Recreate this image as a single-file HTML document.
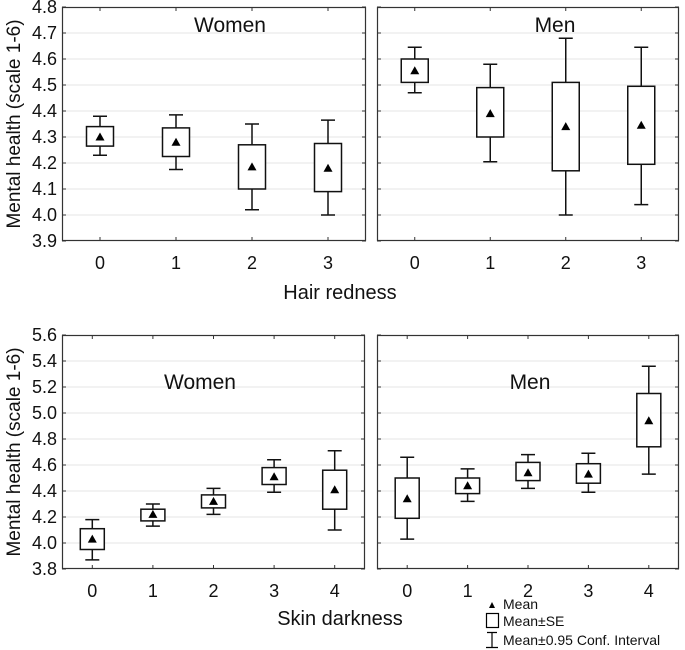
<!DOCTYPE html>
<html><head><meta charset="utf-8"><style>
html,body{margin:0;padding:0;background:#fff}
svg{display:block;font-family:"Liberation Sans",Arial,sans-serif}
</style></head><body>
<svg id="chart" width="685" height="650" viewBox="0 0 685 650" xmlns="http://www.w3.org/2000/svg">
<text x="0" y="0" transform="translate(20,124) rotate(-90)" text-anchor="middle" font-size="19" fill="#111">Mental health (scale 1-6)</text>
<text x="0" y="0" transform="translate(20,452) rotate(-90)" text-anchor="middle" font-size="19" fill="#111">Mental health (scale 1-6)</text>
<text x="340" y="299" text-anchor="middle" font-size="20" fill="#111">Hair redness</text>
<text x="340" y="625" text-anchor="middle" font-size="20" fill="#111">Skin darkness</text>
<g font-size="14" fill="#111">
<polygon points="489,608 495,608 492,602" fill="#000"/>
<text x="503" y="609">Mean</text>
<rect x="486.5" y="613.5" width="12" height="14" fill="none" stroke="#000" stroke-width="1.2"/>
<text x="503" y="626">Mean±SE</text>
<path d="M487,632.5H497M492,632.5V647.5M486,647.5H498" stroke="#000" stroke-width="1.2" fill="none"/>
<text x="503" y="645">Mean±0.95 Conf. Interval</text>
</g>
</svg>
<script>
const hairCats=["0","1","2","3"];
const hairWomenMean=[4.30,4.28,4.185,4.18];
const hairWomenSeLo=[4.265,4.225,4.10,4.09];
const hairWomenSeHi=[4.34,4.335,4.27,4.275];
const hairWomenCiLo=[4.23,4.175,4.02,4.0];
const hairWomenCiHi=[4.38,4.385,4.35,4.365];
const hairMenMean=[4.555,4.39,4.34,4.345];
const hairMenSeLo=[4.51,4.30,4.17,4.195];
const hairMenSeHi=[4.60,4.49,4.51,4.495];
const hairMenCiLo=[4.47,4.205,4.0,4.04];
const hairMenCiHi=[4.645,4.58,4.68,4.645];
const hairTicks=["3.9","4.0","4.1","4.2","4.3","4.4","4.5","4.6","4.7","4.8"];
const skinCats=["0","1","2","3","4"];
const skinWomenMean=[4.03,4.22,4.32,4.51,4.41];
const skinWomenSeLo=[3.95,4.17,4.27,4.45,4.26];
const skinWomenSeHi=[4.11,4.26,4.37,4.58,4.56];
const skinWomenCiLo=[3.87,4.13,4.22,4.39,4.10];
const skinWomenCiHi=[4.18,4.30,4.42,4.64,4.71];
const skinMenMean=[4.34,4.44,4.54,4.53,4.94];
const skinMenSeLo=[4.19,4.38,4.48,4.46,4.74];
const skinMenSeHi=[4.50,4.50,4.62,4.61,5.15];
const skinMenCiLo=[4.03,4.32,4.42,4.39,4.53];
const skinMenCiHi=[4.66,4.57,4.68,4.69,5.36];
const skinTicks=["3.8","4.0","4.2","4.4","4.6","4.8","5.0","5.2","5.4","5.6"];

const NS="http://www.w3.org/2000/svg";
const svg=document.getElementById('chart');
function mk(tag,attrs,parent){const e=document.createElementNS(NS,tag);for(const k in attrs)e.setAttribute(k,attrs[k]);(parent||svg).appendChild(e);return e;}

function panel(o){
  const g=mk('g',{});
  
  
  const ymin=parseFloat(o.ticks[0]),ymax=parseFloat(o.ticks[o.ticks.length-1]);
  const y=v=>o.y1-(v-ymin)/(ymax-ymin)*(o.y1-o.y0);
  const slot=(o.x1-o.x0)/o.cats.length;
  const x=i=>o.x0+slot*(i+0.5);
  o.ticks.forEach((t,i)=>{
    const v=parseFloat(t),yy=y(v);
    if(i>0&&i<o.ticks.length-1){
      const gl=mk('line',{x1:o.x0,x2:o.x1,y1:yy,y2:yy,stroke:'#e4e4e4','stroke-width':1},g);
      
      
    }
    const tk=mk('path',{d:`M${o.x0},${yy}h4M${o.x1},${yy}h-4`,stroke:'#333','stroke-width':1},g);
    
    
    if(o.labels){
      const tl=mk('text',{x:o.x0-5,y:yy+6,'text-anchor':'end','font-size':18,fill:'#111'},g);
      tl.textContent=t;
      
      
    }
  });
  const fr=mk('rect',{x:o.x0+0.5,y:o.y0+0.5,width:o.x1-o.x0-1,height:o.y1-o.y0-1,fill:'none',stroke:'#333','stroke-width':1.2},g);
  
  
  const tt=mk('text',{x:o.tx,y:o.ty,'text-anchor':'middle','font-size':21,fill:'#111'},g);
  tt.textContent=o.title;
  
  
  o.cats.forEach((c,i)=>{
    const xx=x(i);
    const tk=mk('path',{d:`M${xx},${o.y1}v-4M${xx},${o.y0}v4`,stroke:'#333','stroke-width':1},g);
    
    
    const lb=mk('text',{x:xx,y:o.y1+28,'text-anchor':'middle','font-size':18,fill:'#111'},g);
    lb.textContent=c;
    
    
    const bw=o.bw,cw=7;
    const wh=mk('path',{d:`M${xx},${y(o.ciHi[i])}V${y(o.seHi[i])}M${xx},${y(o.seLo[i])}V${y(o.ciLo[i])}M${xx-cw},${y(o.ciHi[i])}H${xx+cw}M${xx-cw},${y(o.ciLo[i])}H${xx+cw}`,stroke:'#111','stroke-width':1.5,fill:'none'},g);
    
    
    const bx=mk('rect',{x:xx-bw/2,y:y(o.seHi[i]),width:bw,height:y(o.seLo[i])-y(o.seHi[i]),fill:'#fff',stroke:'#111','stroke-width':1.5},g);
    
    
    const my=y(o.mean[i]);
    const mm=mk('polygon',{points:`${xx-4.5},${my+3.5} ${xx+4.5},${my+3.5} ${xx},${my-4.5}`,fill:'#000'},g);
    
    
  });
}
panel({name:'panel-hair-women',x0:62,x1:366,y0:7,y1:241,ticks:hairTicks,cats:hairCats,labels:true,title:'Women',tx:230,ty:32,bw:27,mean:hairWomenMean,seLo:hairWomenSeLo,seHi:hairWomenSeHi,ciLo:hairWomenCiLo,ciHi:hairWomenCiHi});
panel({name:'panel-hair-men',x0:377,x1:679,y0:7,y1:241,ticks:hairTicks,cats:hairCats,labels:false,title:'Men',tx:555,ty:32,bw:27,mean:hairMenMean,seLo:hairMenSeLo,seHi:hairMenSeHi,ciLo:hairMenCiLo,ciHi:hairMenCiHi});
panel({name:'panel-skin-women',x0:62,x1:365,y0:335,y1:569,ticks:skinTicks,cats:skinCats,labels:true,title:'Women',tx:200,ty:389,bw:24,mean:skinWomenMean,seLo:skinWomenSeLo,seHi:skinWomenSeHi,ciLo:skinWomenCiLo,ciHi:skinWomenCiHi});
panel({name:'panel-skin-men',x0:377,x1:679,y0:335,y1:569,ticks:skinTicks,cats:skinCats,labels:false,title:'Men',tx:530,ty:389,bw:24,mean:skinMenMean,seLo:skinMenSeLo,seHi:skinMenSeHi,ciLo:skinMenCiLo,ciHi:skinMenCiHi});
</script>
</body></html>
